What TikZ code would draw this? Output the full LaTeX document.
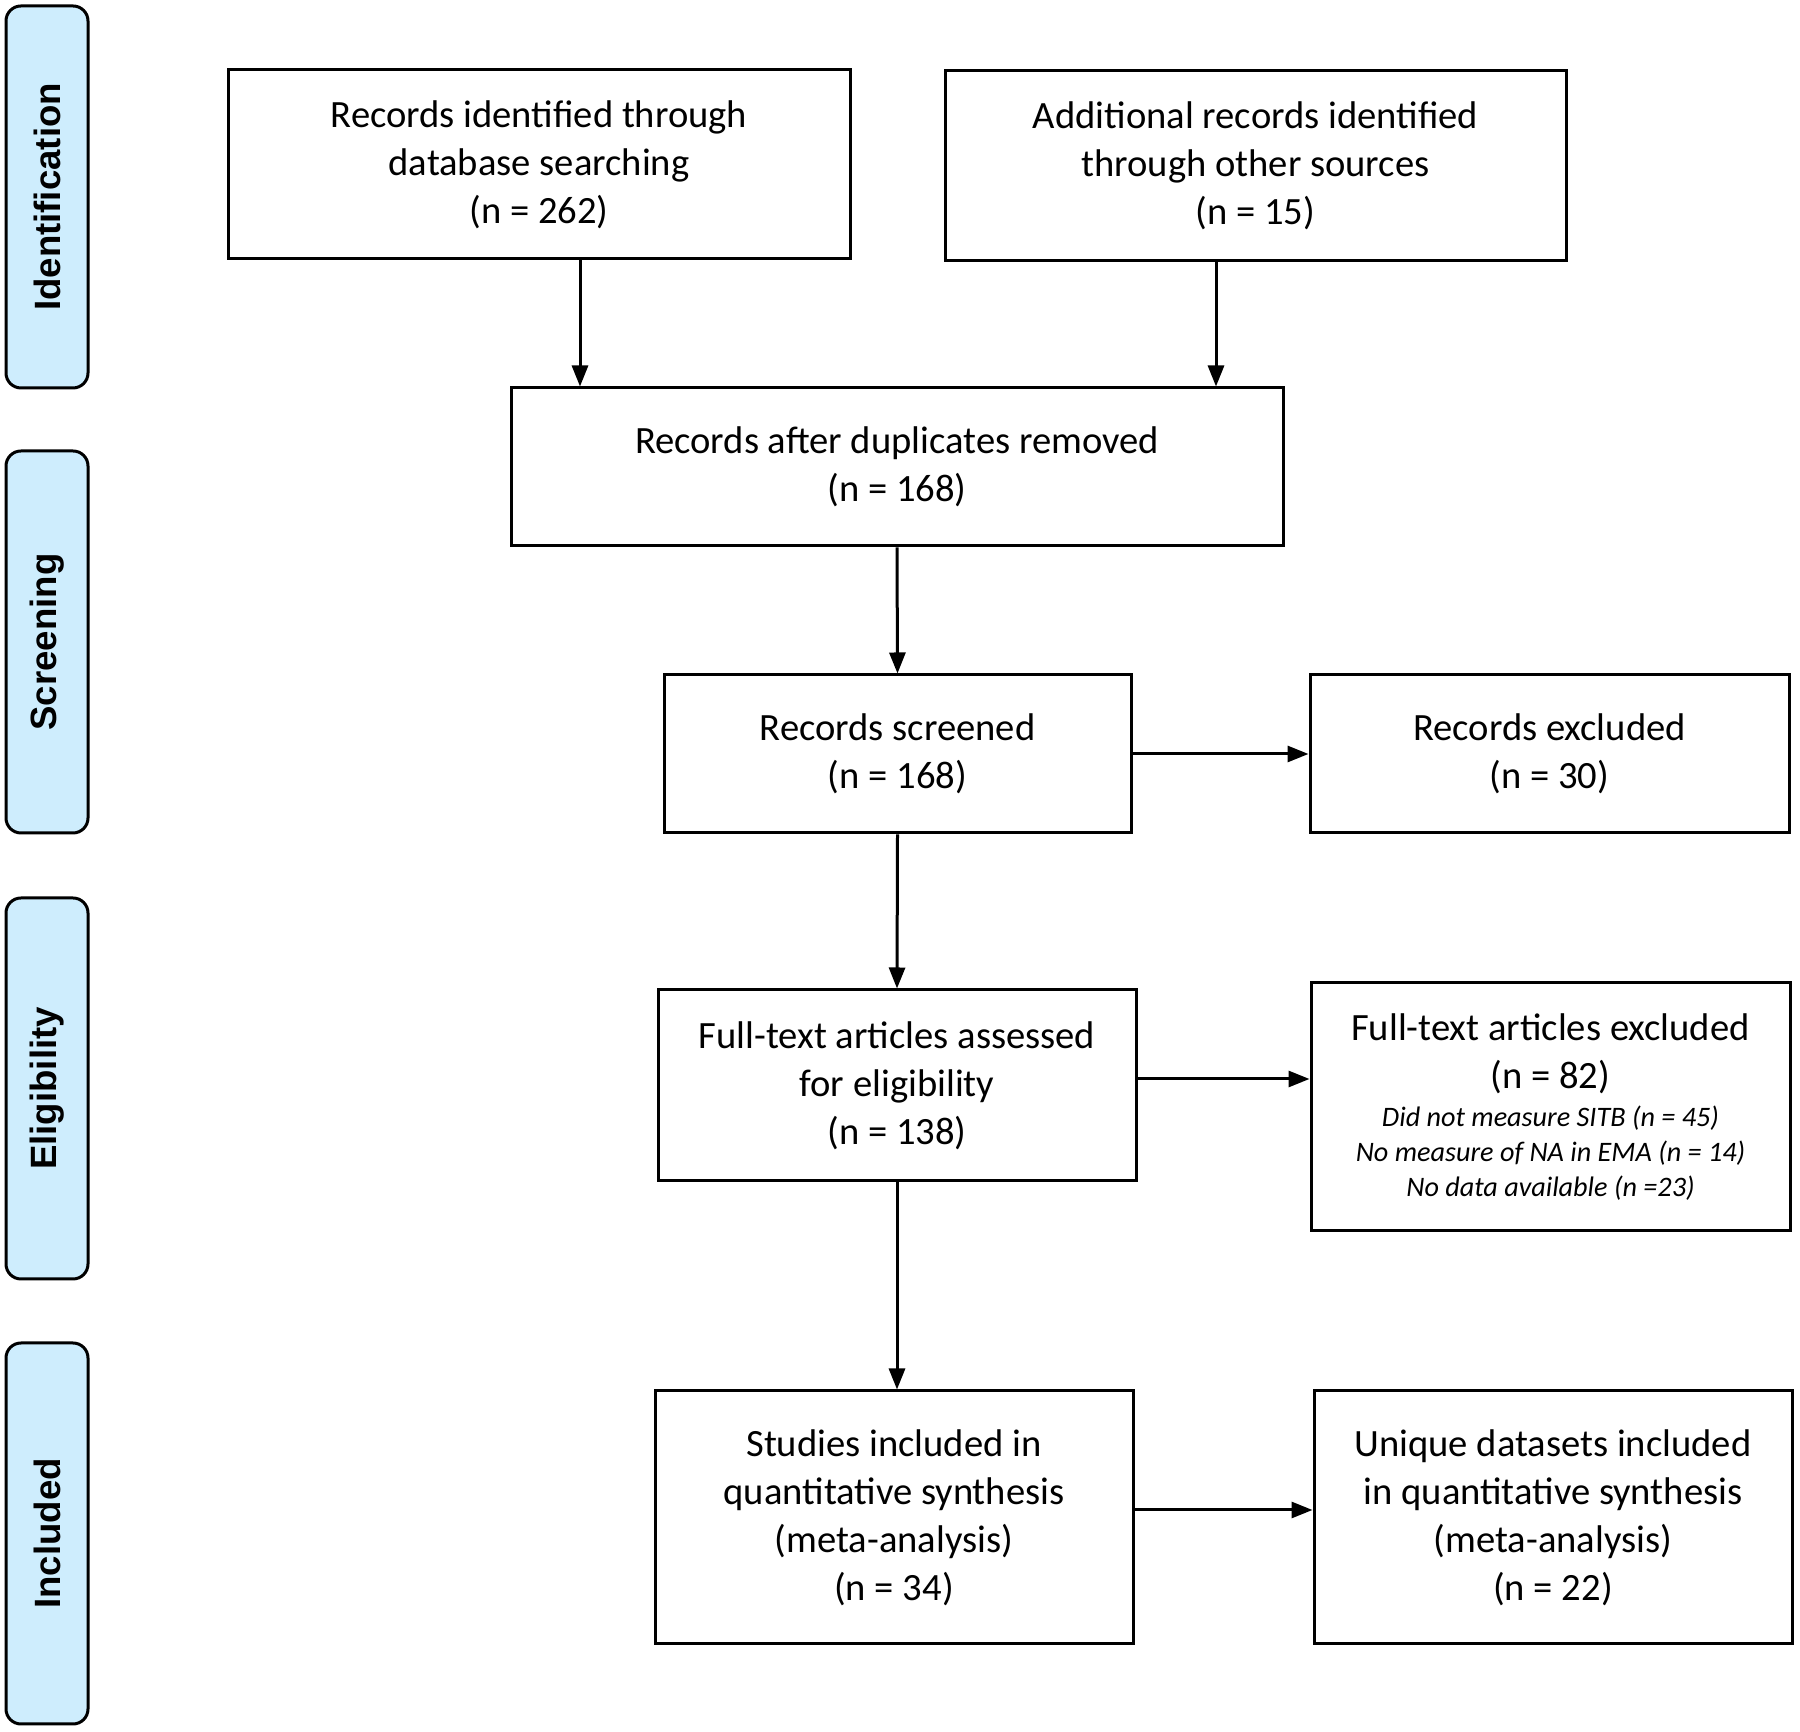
\documentclass[tikz,border=0pt]{standalone}
\usepackage{fontspec}
\setmainfont{Carlito}
\newfontfamily\sidefont{Liberation Sans}
\usetikzlibrary{arrows.meta}
\definecolor{stagefill}{RGB}{206,237,253}
\tikzset{
  stagebar/.style={draw=black, line width=1.5bp, fill=stagefill, rounded corners=7.5bp,
    rotate=90, minimum height=41bp, inner sep=0pt,
    font=\sidefont\bfseries\fontsize{18.3bp}{22bp}\selectfont},
  recbox/.style={draw=black, line width=1.5bp, align=center, inner sep=0pt,
    font=\fontsize{19.3bp}{24bp}\selectfont},
  flow/.style={->, line width=1.5bp},
}
\newcommand{\whynot}{\fontsize{14.1bp}{17.2bp}\selectfont\itshape}
\begin{document}
\begin{tikzpicture}[>={Triangle[length=10.5bp,width=8bp]},line join=miter,]
\useasboundingbox (0bp,0bp) rectangle (900bp,866bp);
%%
  % Stage bars
  \node[stagebar, minimum width=191bp] (idbar) at (23.5bp,767.5bp) {Identification};
  \node[stagebar, minimum width=191bp] (scrbar) at (23.5bp,545bp) {Screening};
  \node[stagebar, minimum width=190.5bp] (elibar) at (23.5bp,321.75bp) {Eligibility};
  \node[stagebar, minimum width=190.5bp] (incbar) at (23.5bp,99.25bp) {Included};
%
  % Node: database
  \node[recbox, minimum width=311bp, minimum height=94.5bp] (dbrec) at (269.5bp,783.75bp)
    {Records identified through\\database searching\\(n = 262)};
  % Node: other sources
  \node[recbox, minimum width=310.5bp, minimum height=95bp] (othrec) at (627.75bp,783.25bp)
    {Additional records identified\\through other sources\\(n = 15)};
  % Node: duplicates removed
  \node[recbox, minimum width=386bp, minimum height=79bp] (deduped) at (448.5bp,632.5bp)
    {Records after duplicates removed\\(n = 168)};
  % Node: screened
  \node[recbox, minimum width=233.5bp, minimum height=79bp] (screened) at (448.75bp,489bp)
    {Records screened\\(n = 168)};
  % Node: excluded
  \node[recbox, minimum width=239.5bp, minimum height=79bp] (excluded) at (774.75bp,489bp)
    {Records excluded\\(n = 30)};
  % Node: full text
  \node[recbox, minimum width=239bp, minimum height=95.5bp] (fulltext) at (448.5bp,323.25bp)
    {Full-text articles assessed\\for eligibility\\(n = 138)};
  % Node: full text excluded
  \node[recbox, minimum width=239.5bp, minimum height=124bp] (ftexcl) at (775.25bp,312.5bp)
    {Full-text articles excluded\\(n = 82)\\[-5bp]
     \whynot Did not measure SITB (n = 45)\\[-6.3bp]
     \whynot No measure of NA in EMA (n = 14)\\[-6.3bp]
     \whynot No data available (n =23)};
  % Node: studies
  \node[recbox, minimum width=239bp, minimum height=126.5bp] (studies) at (447bp,107.25bp)
    {Studies included in\\quantitative synthesis\\(meta-analysis)\\(n = 34)};
  % Node: datasets
  \node[recbox, minimum width=239bp, minimum height=126.5bp] (datasets) at (776.5bp,107.25bp)
    {Unique datasets included\\in quantitative synthesis\\(meta-analysis)\\(n = 22)};
%
  % Edge: dbrec -> deduped
  \draw[flow] ([xshift=20.5bp]dbrec.south) -- ([xshift=20.5bp]dbrec.south |- deduped.north);
  % Edge: othrec -> deduped
  \draw[flow] ([xshift=-19.75bp]othrec.south) -- ([xshift=-19.75bp]othrec.south |- deduped.north);
  % Edge: deduped -> screened
  \draw[flow] (deduped.south) -- (screened.north);
  % Edge: screened -> excluded
  \draw[flow] (screened.east) -- (excluded.west);
  % Edge: screened -> fulltext
  \draw[flow] (screened.south) -- (fulltext.north);
  % Edge: fulltext -> ftexcl
  \draw[flow] ([yshift=3.25bp]fulltext.east) -- ([yshift=3.25bp]fulltext.east -| ftexcl.west);
  % Edge: fulltext -> studies
  \draw[flow] (fulltext.south) -- (fulltext.south |- studies.north);
  % Edge: studies -> datasets
  \draw[flow] ([yshift=3.75bp]studies.east) -- ([yshift=3.75bp]studies.east -| datasets.west);
%
\end{tikzpicture}
\end{document}
